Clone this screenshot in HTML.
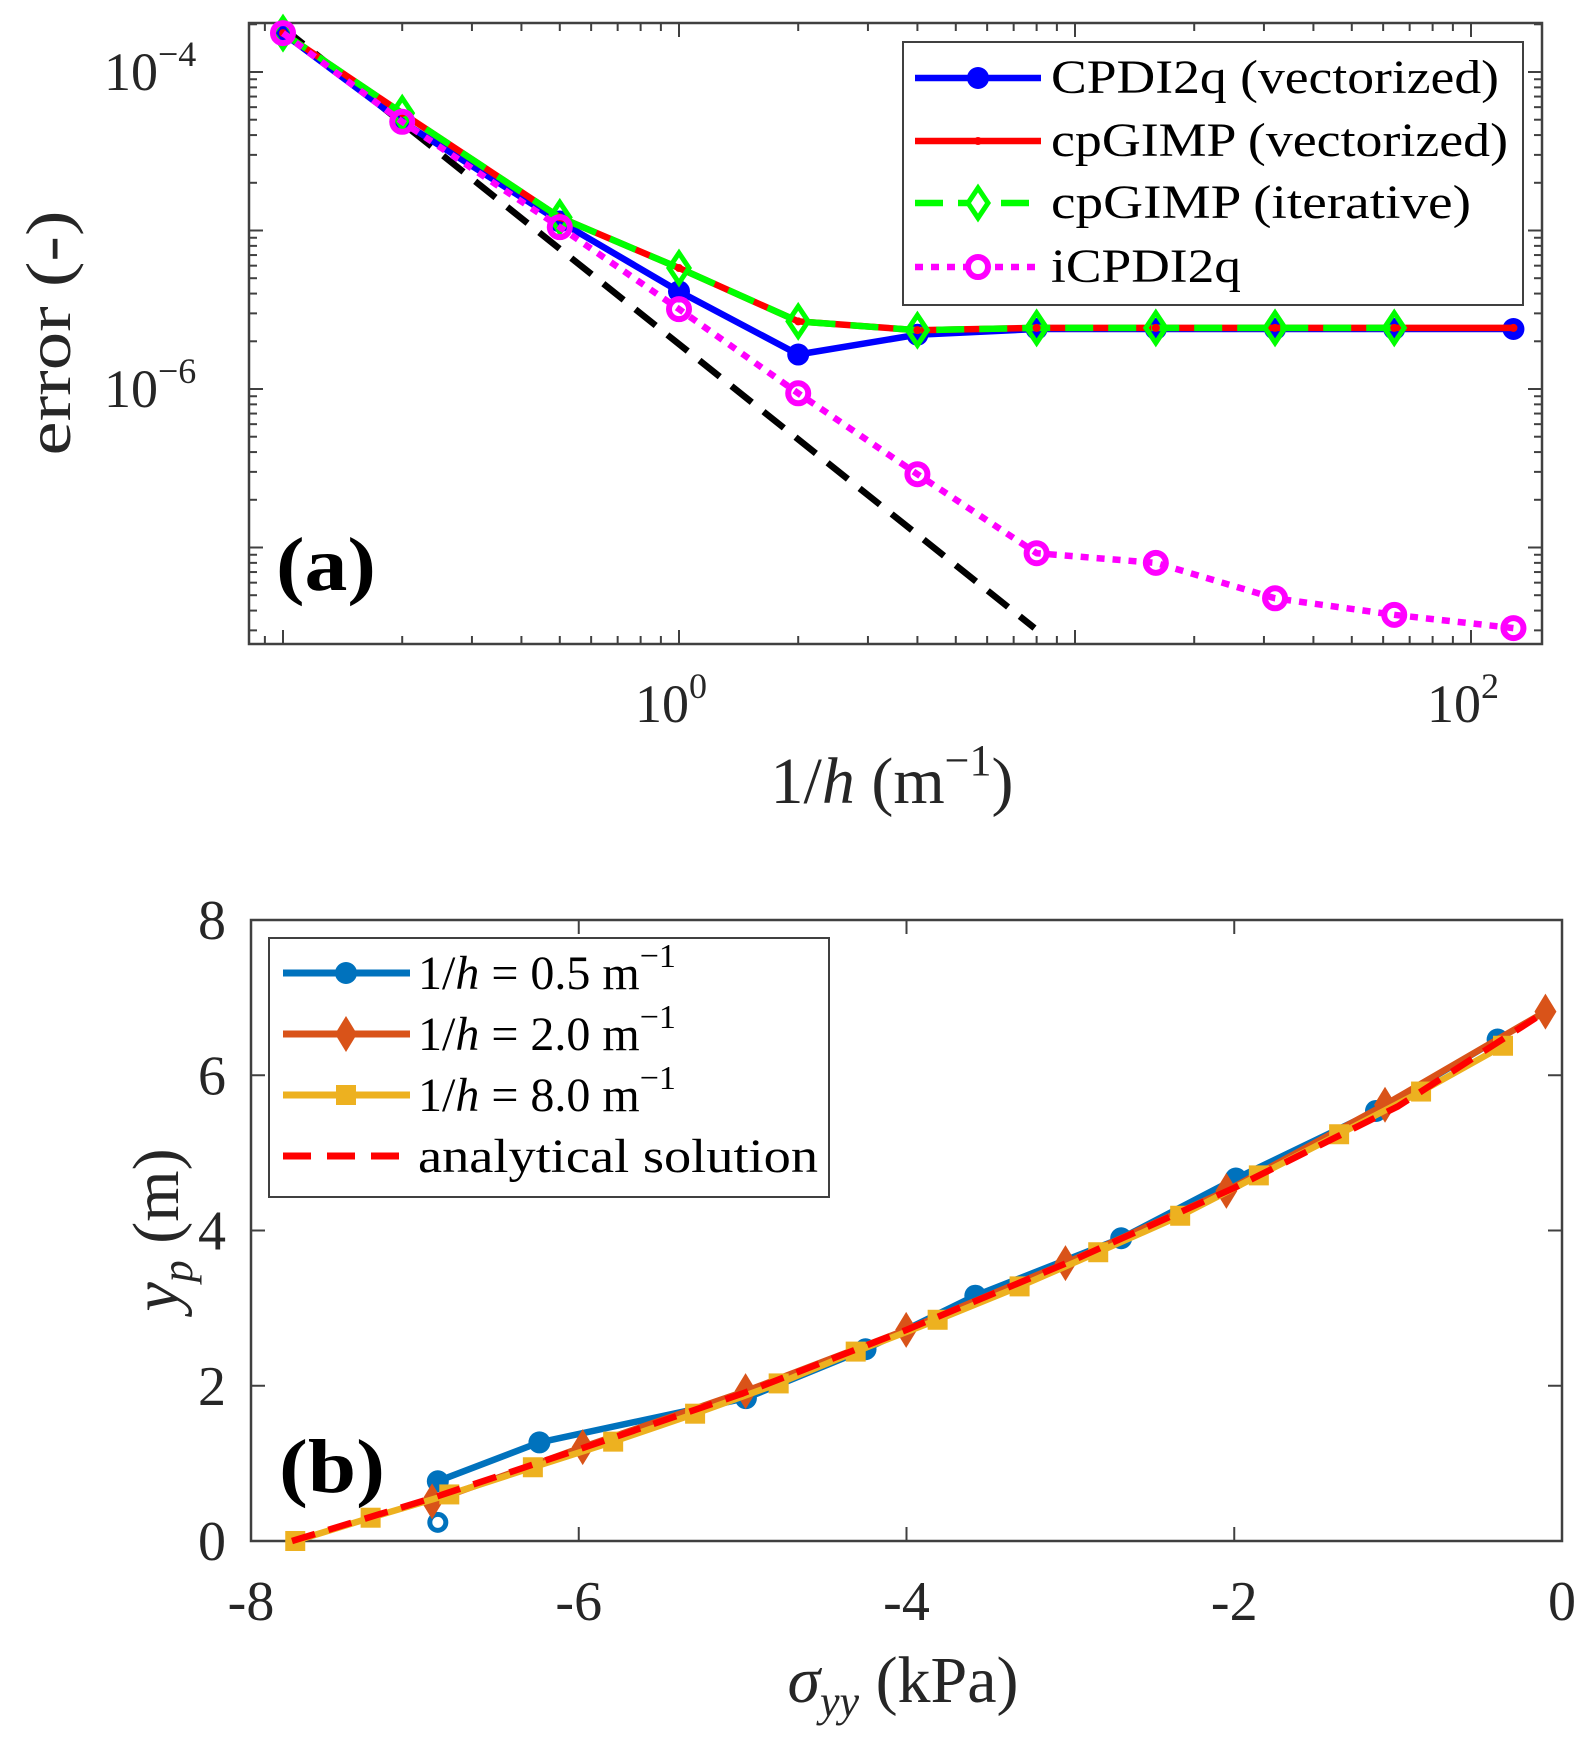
<!DOCTYPE html>
<html><head><meta charset="utf-8"><style>
html,body{margin:0;padding:0;background:#fff;}
svg{display:block;font-family:"Liberation Serif","DejaVu Serif",serif;}
</style></head><body>
<svg id="fig" width="1594" height="1737" viewBox="0 0 1594 1737">
<g id="pa"></g>
<g id="pb"></g>
</svg>
<script>
// ---------- Panel (a) data ----------
const invH = [0.1, 0.2, 0.5, 1, 2, 4, 8, 16, 32, 64, 128];
const errCPDI = [1.76e-4, 4.85e-5, 1.14e-5, 4.13e-6, 1.65e-6, 2.2e-6, 2.39e-6, 2.39e-6, 2.39e-6, 2.39e-6, 2.39e-6];
const errGIMPvec = [1.76e-4, 5.5e-5, 1.21e-5, 5.8e-6, 2.67e-6, 2.35e-6, 2.43e-6, 2.43e-6, 2.43e-6, 2.43e-6, 2.43e-6];
const invHIter = [0.1, 0.2, 0.5, 1, 2, 4, 8, 16, 32, 64];
const errGIMPiter = [1.76e-4, 5.5e-5, 1.21e-5, 5.8e-6, 2.67e-6, 2.35e-6, 2.43e-6, 2.43e-6, 2.43e-6, 2.43e-6];
const errICPDI = [1.76e-4, 4.85e-5, 1.05e-5, 3.19e-6, 9.4e-7, 2.9e-7, 9.2e-8, 8.0e-8, 4.78e-8, 3.76e-8, 3.1e-8];
const refX = [0.1, 7.9];
const refY = [1.9e-4, 3.1e-8];
const aXTicks = [1, 100];
const aXTickLabels = ["0", "2"];
const aYTicks = [1e-4, 1e-6];
const aYTickLabels = ["−4", "−6"];

// ---------- Panel (b) data ----------
const sig05 = [-6.86, -6.24, -4.98, -4.25, -3.58, -2.69, -1.99, -1.135, -0.393];
const y05 = [0.77, 1.27, 1.84, 2.47, 3.16, 3.90, 4.67, 5.54, 6.46];
const sig05Open = [-6.86];
const y05Open = [0.24];
const sig20 = [-6.895, -5.976, -4.982, -4.002, -3.03, -2.048, -1.08, -0.101];
const y20 = [0.51, 1.21, 1.93, 2.72, 3.58, 4.51, 5.62, 6.82];
const sig80 = [-7.73, -7.27, -6.79, -6.28, -5.79, -5.29, -4.78, -4.31, -3.81, -3.31, -2.83, -2.33, -1.85, -1.36, -0.86, -0.36];
const y80 = [0, 0.3, 0.6, 0.95, 1.28, 1.64, 2.03, 2.44, 2.85, 3.28, 3.72, 4.19, 4.71, 5.24, 5.79, 6.38];
const sigAn = [-7.75, -6.9, -6, -5, -4, -3, -2, -1, -0.1];
const yAn = [0, 0.55, 1.18, 1.9, 2.72, 3.6, 4.55, 5.6, 6.82];
const bXTicks = [-8, -6, -4, -2, 0];
const bXTickLabels = ["-8", "-6", "-4", "-2", "0"];
const bYTicks = [0, 2, 4, 6, 8];
const bYTickLabels = ["0", "2", "4", "6", "8"];

const NS = "http://www.w3.org/2000/svg";
function mk(parent, tag, attrs, txt) {
  const e = document.createElementNS(NS, tag);
  for (const k in attrs) e.setAttribute(k, attrs[k]);
  if (txt !== undefined) e.textContent = txt;
  parent.appendChild(e);
  return e;
}
const AX = "#404040";
const LW = 6.5;

// ===== Panel A =====
const pa = document.getElementById("pa");
const aL = 249, aR = 1542, aT = 23, aB = 644;
const xa = v => 679 + 396 * Math.log10(v);
const ya = v => 389 - 158.5 * (Math.log10(v) + 6);
function polyA(xs, ys, attrs, name) {
  const p = xs.map((x, i) => xa(x).toFixed(1) + "," + ya(ys[i]).toFixed(1)).join(" ");
  const e = mk(pa, "polyline", Object.assign({points: p, fill: "none", "stroke-linejoin": "round"}, attrs));
  
  
}
let g = mk(pa, "g", {stroke: AX, "stroke-width": 2});


for (let d = -2; d <= 2; d++) for (let m = 1; m <= 9; m++) {
  const v = m * Math.pow(10, d), x = xa(v);
  if (x < aL + 1 || x > aR - 1) continue;
  const len = m === 1 ? 14 : 8;
  mk(g, "line", {x1: x, y1: aB, x2: x, y2: aB - len});
  mk(g, "line", {x1: x, y1: aT, x2: x, y2: aT + len});
}
for (let d = -8; d <= -3; d++) for (let m = 1; m <= 9; m++) {
  const v = m * Math.pow(10, d), y = ya(v);
  if (y < aT + 1 || y > aB - 1) continue;
  const len = m === 1 ? 14 : 8;
  mk(g, "line", {x1: aL, y1: y, x2: aL + len, y2: y});
  mk(g, "line", {x1: aR, y1: y, x2: aR - len, y2: y});
}
let fr = mk(pa, "rect", {x: aL, y: aT, width: aR - aL, height: aB - aT, fill: "none", stroke: AX, "stroke-width": 2.5});


aXTicks.forEach((v, i) => {
  const t = mk(pa, "text", {x: xa(v) - 8, y: 722, "text-anchor": "middle", "font-size": 54, fill: "#262626"});
  
  
  t.appendChild(document.createTextNode("10"));
  mk(t, "tspan", {dy: -24, "font-size": 36}, aXTickLabels[i]);
});
aYTicks.forEach((v, i) => {
  const t = mk(pa, "text", {x: 104, y: ya(v) + 18, "font-size": 54, fill: "#262626"});
  
  
  t.appendChild(document.createTextNode("10"));
  mk(t, "tspan", {dy: -24, "font-size": 36}, aYTickLabels[i]);
});
let yt = mk(pa, "text", {x: 0, y: 0, transform: "translate(70,333) rotate(-90)", "text-anchor": "middle", "font-size": 64, fill: "#262626", textLength: 245, lengthAdjust: "spacingAndGlyphs"}, "error (-)");


let xt = mk(pa, "text", {x: 892, y: 803, "text-anchor": "middle", "font-size": 66, fill: "#262626"});


xt.appendChild(document.createTextNode("1/"));
mk(xt, "tspan", {"font-style": "italic"}, "h");
xt.appendChild(document.createTextNode(" (m"));
mk(xt, "tspan", {dy: -28, "font-size": 44}, "−1");
mk(xt, "tspan", {dy: 28}, ")");
polyA(refX, refY, {stroke: "#000", "stroke-width": LW, "stroke-dasharray": "26,15"}, "reference-slope-line");
polyA(invH, errCPDI, {stroke: "#0000ff", "stroke-width": LW}, "cpdi2q-line");
invH.forEach((x, i) => { const c = mk(pa, "circle", {cx: xa(x), cy: ya(errCPDI[i]), r: 11, fill: "#0000ff"});   });
polyA(invH, errGIMPvec, {stroke: "#ff0000", "stroke-width": LW}, "cpgimp-vectorized-line");
polyA(invHIter, errGIMPiter, {stroke: "#00ff00", "stroke-width": LW, "stroke-dasharray": "28,15"}, "cpgimp-iterative-line");
invHIter.forEach((x, i) => { const cx = xa(x), cy = ya(errGIMPiter[i]); const p = mk(pa, "polygon", {points: `${cx},${cy-15} ${cx+10},${cy} ${cx},${cy+15} ${cx-10},${cy}`, fill: "none", stroke: "#00ff00", "stroke-width": 5});   });
invH.forEach((x, i) => { const c = mk(pa, "circle", {cx: xa(x), cy: ya(errGIMPvec[i]), r: 4, fill: "#ff0000"});   });
polyA(invH, errICPDI, {stroke: "#ff00ff", "stroke-width": LW, "stroke-dasharray": "8,8"}, "icpdi2q-line");
invH.forEach((x, i) => { const c = mk(pa, "circle", {cx: xa(x), cy: ya(errICPDI[i]), r: 10, fill: "none", stroke: "#ff00ff", "stroke-width": 6});   });
let la = mk(pa, "text", {x: 276, y: 590, "font-size": 76, "font-weight": "bold", fill: "#000", textLength: 100, lengthAdjust: "spacingAndGlyphs"}, "(a)");


let lg = mk(pa, "g", {});


mk(lg, "rect", {x: 903, y: 42, width: 620, height: 263, fill: "#fff", stroke: AX, "stroke-width": 2});
const legA = [
  {t: "CPDI2q (vectorized)", y: 78, w: 448, c: "#0000ff"},
  {t: "cpGIMP (vectorized)", y: 141, w: 457, c: "#ff0000"},
  {t: "cpGIMP (iterative)", y: 203, w: 420, c: "#00ff00"},
  {t: "iCPDI2q", y: 267, w: 190, c: "#ff00ff"}];
legA.forEach((e, i) => {
  const ent = mk(lg, "g", {});
  
  
  const dash = i === 2 ? "28,15" : (i === 3 ? "8,8" : "none");
  mk(ent, "line", {x1: 915, y1: e.y, x2: 1041, y2: e.y, stroke: e.c, "stroke-width": LW, "stroke-dasharray": dash});
  if (i === 0) mk(ent, "circle", {cx: 978, cy: e.y, r: 11, fill: e.c});
  if (i === 1) mk(ent, "circle", {cx: 978, cy: e.y, r: 4, fill: e.c});
  if (i === 2) mk(ent, "polygon", {points: `978,${e.y-15} 988,${e.y} 978,${e.y+15} 968,${e.y}`, fill: "#fff", stroke: e.c, "stroke-width": 5});
  if (i === 3) mk(ent, "circle", {cx: 978, cy: e.y, r: 10, fill: "#fff", stroke: e.c, "stroke-width": 6});
  mk(ent, "text", {x: 1051, y: e.y + 15, "font-size": 48, fill: "#000", textLength: e.w, lengthAdjust: "spacingAndGlyphs"}, e.t);
});

// ===== Panel B =====
const pb = document.getElementById("pb");
const bL = 251, bR = 1562, bT = 920, bB = 1541;
const xb = v => bL + (v + 8) * (bR - bL) / 8;
const yb = v => bB - v * (bB - bT) / 8;
let gb = mk(pb, "g", {stroke: AX, "stroke-width": 2});


bXTicks.forEach(v => { mk(gb, "line", {x1: xb(v), y1: bB, x2: xb(v), y2: bB - 14}); mk(gb, "line", {x1: xb(v), y1: bT, x2: xb(v), y2: bT + 14}); });
bYTicks.forEach(v => { mk(gb, "line", {x1: bL, y1: yb(v), x2: bL + 14, y2: yb(v)}); mk(gb, "line", {x1: bR, y1: yb(v), x2: bR - 14, y2: yb(v)}); });
let fb = mk(pb, "rect", {x: bL, y: bT, width: bR - bL, height: bB - bT, fill: "none", stroke: AX, "stroke-width": 2.5});


bXTicks.forEach((v, i) => { const t = mk(pb, "text", {x: xb(v), y: 1620, "text-anchor": "middle", "font-size": 56, fill: "#262626"}, bXTickLabels[i]);   });
bYTicks.forEach((v, i) => { const t = mk(pb, "text", {x: 226, y: yb(v) + 19, "text-anchor": "end", "font-size": 56, fill: "#262626"}, bYTickLabels[i]);   });
let ybt = mk(pb, "text", {x: 0, y: 0, transform: "translate(178,1230) rotate(-90)", "text-anchor": "middle", "font-size": 66, fill: "#262626"});


mk(ybt, "tspan", {"font-style": "italic"}, "y");
mk(ybt, "tspan", {"font-style": "italic", "font-size": 44, dy: 14}, "p");
mk(ybt, "tspan", {dy: -14}, " (m)");
let xbt = mk(pb, "text", {x: 903, y: 1702, "text-anchor": "middle", "font-size": 66, fill: "#262626"});


mk(xbt, "tspan", {"font-style": "italic"}, "σ");
mk(xbt, "tspan", {"font-style": "italic", "font-size": 44, dy: 14}, "yy");
mk(xbt, "tspan", {dy: -14}, " (kPa)");
function polyB(xs, ys, attrs, name) {
  const p = xs.map((x, i) => xb(x).toFixed(1) + "," + yb(ys[i]).toFixed(1)).join(" ");
  const e = mk(pb, "polyline", Object.assign({points: p, fill: "none", "stroke-linejoin": "round"}, attrs));
  
  
}
const C1 = "#0072BD", C2 = "#D95319", C3 = "#EDB120";
polyB(sig05, y05, {stroke: C1, "stroke-width": LW}, "series-h0.5-line");
sig05.forEach((x, i) => { const c = mk(pb, "circle", {cx: xb(x), cy: yb(y05[i]), r: 11, fill: C1});   });
sig05Open.forEach((x, i) => { const c = mk(pb, "circle", {cx: xb(x), cy: yb(y05Open[i]), r: 8, fill: "none", stroke: C1, "stroke-width": 5});   });
polyB(sig20, y20, {stroke: C2, "stroke-width": LW}, "series-h2.0-line");
sig20.forEach((x, i) => { const cx = xb(x), cy = yb(y20[i]); const p = mk(pb, "polygon", {points: `${cx},${cy-18} ${cx+11},${cy} ${cx},${cy+18} ${cx-11},${cy}`, fill: C2});   });
polyB(sig80, y80, {stroke: C3, "stroke-width": LW}, "series-h8.0-line");
sig80.forEach((x, i) => { const r = mk(pb, "rect", {x: xb(x) - 10, y: yb(y80[i]) - 10, width: 20, height: 20, fill: C3});   });
polyB(sigAn, yAn, {stroke: "#ff0000", "stroke-width": LW, "stroke-dasharray": "24,14"}, "analytical-solution-line");
let lb = mk(pb, "text", {x: 279, y: 1492, "font-size": 76, "font-weight": "bold", fill: "#000", textLength: 106, lengthAdjust: "spacingAndGlyphs"}, "(b)");


let lgb = mk(pb, "g", {});


mk(lgb, "rect", {x: 269, y: 938, width: 560, height: 259, fill: "#fff", stroke: AX, "stroke-width": 2});
const legB = [{v: "0.5", y: 973, c: C1}, {v: "2.0", y: 1034, c: C2}, {v: "8.0", y: 1095, c: C3}];
legB.forEach((e, i) => {
  const ent = mk(lgb, "g", {});
  
  
  mk(ent, "line", {x1: 283, y1: e.y, x2: 410, y2: e.y, stroke: e.c, "stroke-width": 7});
  if (i === 0) mk(ent, "circle", {cx: 346, cy: e.y, r: 11, fill: e.c});
  if (i === 1) mk(ent, "polygon", {points: `346,${e.y-18} 357,${e.y} 346,${e.y+18} 335,${e.y}`, fill: e.c});
  if (i === 2) mk(ent, "rect", {x: 336, y: e.y - 10, width: 20, height: 20, fill: e.c});
  const t = mk(ent, "text", {x: 418, y: e.y + 16, "font-size": 48, fill: "#000"});
  t.appendChild(document.createTextNode("1/"));
  mk(t, "tspan", {"font-style": "italic"}, "h");
  t.appendChild(document.createTextNode(" = " + e.v + " m"));
  mk(t, "tspan", {dy: -22, "font-size": 34}, "−1");
});
let ent4 = mk(lgb, "g", {});


mk(ent4, "line", {x1: 283, y1: 1156, x2: 410, y2: 1156, stroke: "#ff0000", "stroke-width": 7, "stroke-dasharray": "28,16"});
mk(ent4, "text", {x: 418, y: 1172, "font-size": 48, fill: "#000", textLength: 400, lengthAdjust: "spacingAndGlyphs"}, "analytical solution");
</script>
</body></html>
